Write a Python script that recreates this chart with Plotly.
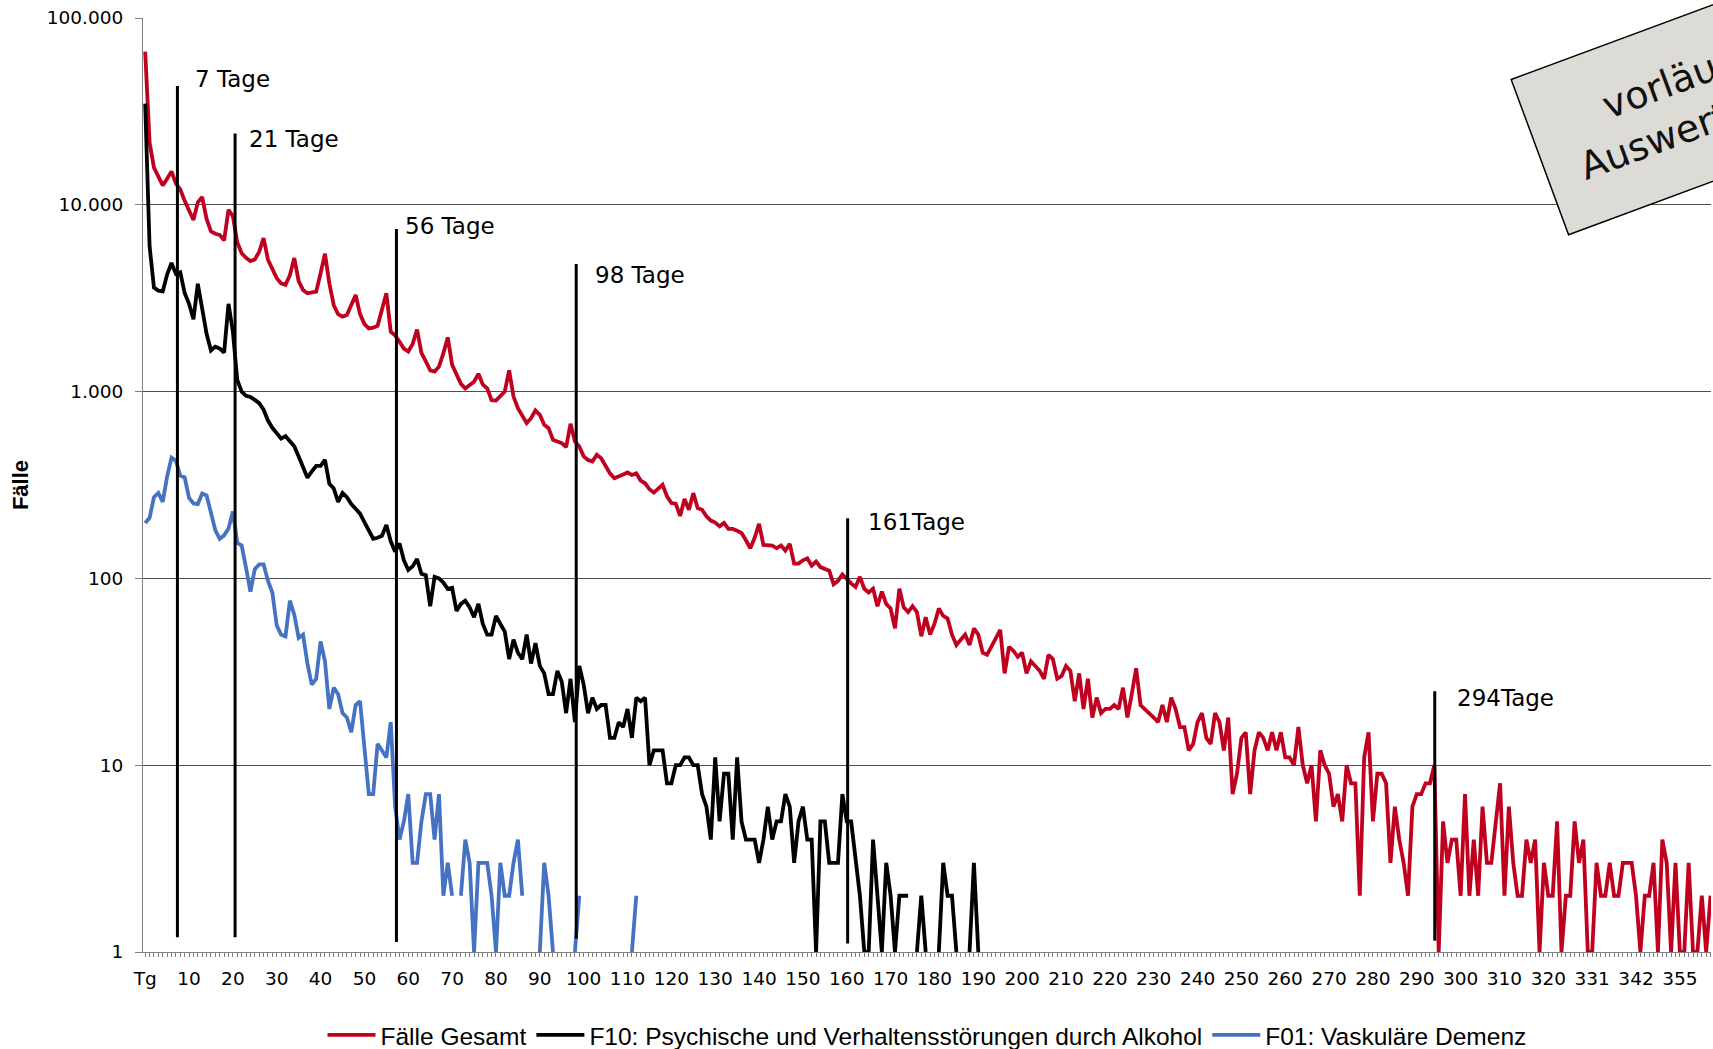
import math
import plotly.graph_objects as go

# ---------------- data ----------------
# category labels (x axis): "Tg" then days; some late days are missing in the source
days = ["Tg"] + [str(d) for d in range(1, 321)] + [str(d) for d in [
    321, 322, 323, 324, 326, 327, 328, 329, 330, 331,
    332, 333, 334, 335, 337, 338, 339, 340, 341, 342,
    343, 345, 346, 347, 349, 350, 352, 353, 354, 355,
    356, 358, 359, 360, 361, 363, 364]]

faelle_gesamt = [
    66000, 21500, 15800, 14000, 12700, 13800, 15100, 13000, 12100, 10500,
    9200, 8300, 10300, 11000, 8400, 7200, 7000, 6900, 6450, 9400,
    8700, 6300, 5500, 5200, 5000, 5100, 5600, 6640, 5080, 4500,
    4050, 3800, 3730, 4200, 5190, 3900, 3500, 3360, 3400, 3430,
    4300, 5470, 3800, 2900, 2600, 2520, 2570, 2900, 3290, 2600,
    2300, 2180, 2200, 2250, 2700, 3360, 2090, 2000, 1850, 1700,
    1640, 1800, 2150, 1610, 1450, 1300, 1280, 1360, 1600, 1950,
    1390, 1250, 1100, 1040, 1080, 1130, 1245, 1090, 1040, 900,
    895, 940, 1000, 1300, 940, 816, 740, 678, 720, 793,
    751, 664, 637, 552, 540, 530, 505, 673, 541, 508,
    450, 430, 423, 459, 440, 400, 365, 344, 354, 360,
    369, 358, 365, 334, 323, 300, 288, 304, 317, 275,
    253, 251, 216, 266, 233, 286, 238, 233, 215, 204,
    199, 190, 198, 184, 184, 180, 175, 160, 145, 165,
    196, 151, 150, 150, 145, 150, 141, 153, 120, 120,
    125, 128, 117, 123, 115, 112, 110, 93, 97, 105,
    99, 94, 90, 102, 88, 84, 88, 71, 85, 73,
    69, 54, 88, 70, 66, 71, 66, 49, 62, 50,
    57, 69, 63, 61, 50, 44, 47, 50, 44, 54,
    50, 40, 39, 43, 48, 53, 31, 43, 41, 38,
    40, 31, 36, 34, 32, 29, 39, 37, 29, 30,
    34, 32, 22, 31, 20, 29, 18, 23, 19, 20,
    20, 21, 20, 26, 18, 24, 33, 21, 20, 19,
    18, 17, 21, 17, 23, 20, 16, 16, 12, 13,
    17, 19, 14, 13, 19, 17, 12, 18, 7, 9,
    14, 15, 7, 12, 15, 14, 12, 15, 12, 15,
    11, 11, 10, 16, 10, 8, 10, 5, 12, 10,
    9, 6, 7, 5, 10, 8, 8, 2, 11, 15,
    5, 9, 9, 8, 3, 6, 4, 3, 2, 6,
    7, 7, 8, 8, 10, 1, 5, 3, 4, 4,
    2, 7, 2, 4, 2, 6, 3, 3, 5, 8,
    2, 6, 3, 2, 2, 4, 3, 4, 1, 3,
    2, 2, 5, 1, 2, 2, 5, 3, 4, 1,
    1, 3, 2, 2, 3, 2, 2, 3, 3, 3,
    2, 1, 2, 2, 3, 1, 4, 3, 1, 3,
    1, 1, 3, 1, 1, 2, 1, 2,
]

f10_alkohol = [
    34800, 6000, 3600, 3470, 3440, 4230, 4880, 4270, 4350, 3370,
    2950, 2440, 3780, 2840, 2040, 1660, 1740, 1700, 1620, 2950,
    2090, 1155, 1000, 950, 935, 903, 867, 800, 700, 640,
    600, 560, 577, 540, 510, 450, 390, 346, 374, 400,
    400, 431, 321, 303, 257, 287, 272, 250, 236, 222,
    200, 180, 163, 165, 169, 193, 158, 139, 154, 125,
    111, 116, 127, 106, 104, 71, 102, 100, 95, 88,
    89, 67, 73, 76, 70, 62, 73, 57, 50, 50,
    63, 57, 52, 37, 47, 40, 37, 50, 35, 45,
    34, 31, 24, 24, 32, 28, 19, 29, 17, 34,
    27, 19, 23, 20, 21, 21, 14, 14, 17, 16,
    20, 14, 23, 22, 23, 10, 12, 12, 12, 8,
    8, 10, 10, 11, 11, 10, 10, 7, 6, 4,
    11, 5, 9, 9, 4, 11, 5, 4, 4, 4,
    3, 4, 6, 4, 5, 5, 7, 6, 3, 5,
    6, 4, 4, 1, 5, 5, 3, 3, 3, 7,
    5, 5, 3, 2, 1, 1, 4, 2, 1, 3,
    2, 1, 2, 2, 2, None, 1, 2, 1, None,
    None, 1, 3, 2, 2, 1, None, None, 1, 3,
    1,
]

f01_demenz = [
    198, 211, 272, 287, 257, 351, 443, 427, 355, 347,
    270, 252, 250, 285, 278, 219, 181, 163, 170, 185,
    228, 155, 150, 114, 85, 112, 119, 119, 97, 84,
    56, 50, 49, 76, 64, 48, 50, 35, 27, 29,
    46, 36, 20, 26, 24, 19, 18, 15, 21, 22,
    12, 7, 7, 13, 12, 11, 17, 6, 4, 5,
    7, 3, 3, 5, 7, 7, 4, 7, 2, 3,
    2, None, 2, 4, 3, 1, 3, 3, 3, 2,
    1, 3, 2, 2, 3, 4, 2, None, None, None,
    1, 3, 2, 1, None, None, None, None, 1, 2,
    None, None, None, None, None, None, None, None, None, None,
    None, 1, 2,
]

series_names = [
    "Fälle Gesamt",
    "F10: Psychische und Verhaltensstörungen durch Alkohol",
    "F01: Vaskuläre Demenz",
]

# y axis ticks
y_tickvals = [1, 10, 100, 1000, 10000, 100000]
y_ticktext = ["1", "10", "100", "1.000", "10.000", "100.000"]

# reference lines (day markers)
marker_labels = ["7 Tage", "21 Tage", "56 Tage", "98 Tage", "161Tage", "294Tage"]
marker_pos = [7.35, 20.5, 57.3, 98.3, 160.2, 294.1]          # category position
marker_top = [43200, 24100, 7430, 4820, 210, 24.9]            # line top (cases)
marker_bottom = [1.2, 1.2, 1.13, 1.18, 1.11, 1.15]            # line bottom (cases)
label_y = [47000, 22400, 7700, 4200, 200, 23]                 # label height (cases)
label_shift = [16, 12, 7, 17, 18, 20]                         # px right of line

# ---------------- figure ----------------
colors = ["#C0001F", "#000000", "#4672C4"]
fig = go.Figure()
for name, vals, col in zip(series_names, [faelle_gesamt, f10_alkohol, f01_demenz], colors):
    fig.add_trace(go.Scatter(
        x=days[:len(vals)], y=vals, name=name, mode="lines",
        line=dict(color=col, width=3.8), connectgaps=False,
    ))

tick_text = [d if i % 10 == 0 else "" for i, d in enumerate(days)]

for xp, yt, yb in zip(marker_pos, marker_top, marker_bottom):
    fig.add_shape(type="line", xref="x", yref="y", x0=xp, x1=xp, y0=yb, y1=yt,
                  line=dict(color="black", width=3))

for lab, xp, ly, sh in zip(marker_labels, marker_pos, label_y, label_shift):
    fig.add_annotation(x=xp, y=math.log10(ly), xref="x", yref="y", text=lab,
                       showarrow=False, xanchor="left", yanchor="middle", xshift=sh,
                       font=dict(family="DejaVu Sans", size=23, color="black"))

# "vorläufige Auswertung" stamp (partly outside the figure, as in the source)
fig.add_annotation(
    xref="paper", yref="paper", x=0.9798, y=0.906, xanchor="center", yanchor="middle",
    text="\u00a0\u00a0\u00a0\u00a0vorläufige<br>Auswertung", showarrow=False,
    textangle=-20.3, width=296, height=164, align="center", valign="middle",
    bgcolor="#DCDBD5", bordercolor="black", borderwidth=1.5, borderpad=0,
    font=dict(family="DejaVu Sans", size=38, color="#111111"),
)

# y axis title
fig.add_annotation(
    xref="paper", yref="paper", x=-0.0784, y=0.5, xanchor="center", yanchor="middle",
    text="<b>Fälle</b>", showarrow=False, textangle=-90,
    font=dict(family="Liberation Sans, Arial", size=22, color="black"),
)

fig.update_layout(
    width=1713, height=1049,
    margin=dict(l=143, r=2, t=18, b=97, autoexpand=False),
    paper_bgcolor="white", plot_bgcolor="white",
    showlegend=True,
    legend=dict(orientation="h", x=0.5, xanchor="center",
                yref="container", y=0.0133, yanchor="middle",
                font=dict(family="Liberation Sans, Arial", size=24.5, color="black"),
                itemwidth=48, bgcolor="rgba(0,0,0,0)"),
    xaxis=dict(
        type="category", range=[-0.5, 357.1],
        tickmode="array", tickvals=days, ticktext=tick_text,
        ticks="outside", ticklen=4, tickwidth=1, tickcolor="#808080",
        showline=True, linecolor="#808080", linewidth=1,
        showgrid=False, ticklabelstandoff=6, automargin=False,
        tickfont=dict(family="DejaVu Sans", size=18.5, color="black"),
    ),
    yaxis=dict(
        type="log", range=[0, 5],
        tickmode="array", tickvals=y_tickvals, ticktext=y_ticktext,
        ticks="outside", ticklen=7, tickwidth=1, tickcolor="#808080",
        showline=True, linecolor="#808080", linewidth=1,
        showgrid=True, gridcolor="#505050", gridwidth=1,
        ticklabelstandoff=8, automargin=False,
        tickfont=dict(family="DejaVu Sans", size=18.5, color="black"),
    ),
)

fig.write_html("out.html")
